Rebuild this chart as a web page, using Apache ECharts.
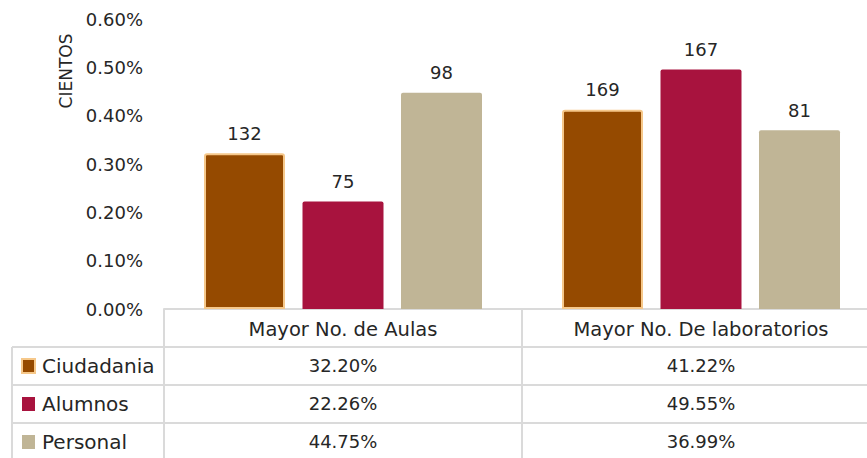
<!DOCTYPE html>
<html>
<head>
<meta charset="utf-8">
<script src="https://cdn.jsdelivr.net/npm/echarts@6/dist/echarts.min.js"></script>
<style>html,body{margin:0;padding:0;background:#fff}#c{width:867px;height:458px}</style>
</head>
<body>
<div id="c"></div>
<script>
const categories = ['Mayor No. de Aulas', 'Mayor No. De laboratorios'];
const seriesNames = ['Ciudadania', 'Alumnos', 'Personal'];
const ciudadaniaPct = [32.20, 41.22];
const alumnosPct = [22.26, 49.55];
const personalPct = [44.75, 36.99];
const ciudadaniaCount = [132, 169];
const alumnosCount = [75, 167];
const personalCount = [98, 81];
const yTicks = [0, 0.1, 0.2, 0.3, 0.4, 0.5, 0.6];

const pcts = [ciudadaniaPct, alumnosPct, personalPct];
const counts = [ciudadaniaCount, alumnosCount, personalCount];
const colors = ['#954a00', '#a8133e', '#c0b596'];
const borders = ['#f6c88a', '#a8133e', '#c0b596'];

const FONT = 'DejaVu Sans';
const FS = 18;
const TXT = '#262626';
const GL = 164, GW = 716, GT = 19, GB = 149, ROW = 38;
const W = 867, H = 458;
const axisY = H - GB;
const lineCol = '#dadada';

const chart = echarts.init(document.getElementById('c'), null, {renderer: 'svg'});

const xAxes = [{
  type: 'category', data: categories, position: 'bottom',
  axisLine: {show: true, lineStyle: {color: lineCol, width: 2}},
  axisTick: {show: false},
  axisLabel: {color: TXT, fontSize: 19.5, fontFamily: FONT, margin: 10}
}];
pcts.forEach((arr, r) => {
  xAxes.push({
    type: 'category', data: categories, position: 'bottom', offset: ROW * (r + 1),
    axisLine: {show: false}, axisTick: {show: false},
    axisLabel: {color: TXT, fontSize: FS, fontFamily: FONT, margin: 9,
      formatter: (v, i) => arr[i].toFixed(2) + '%'}
  });
});

const series = seriesNames.map((n, s) => ({
  name: n, type: 'bar', xAxisIndex: 0,
  data: pcts[s].map(v => v / 100),
  barWidth: 81, barGap: '21.6%',
  itemStyle: {color: colors[s], borderColor: borders[s], borderWidth: s === 0 ? 2 : 0, borderRadius: [2,2,0,0]},
  label: {show: true, position: 'top', distance: 11, color: TXT, fontSize: FS, fontFamily: FONT,
    formatter: p => counts[s][p.dataIndex]}
}));

const graphics = [];
const colMid = GL + GW / 2;
[axisY + ROW, axisY + 2*ROW, axisY + 3*ROW].forEach(y => graphics.push({type: 'line', shape: {x1: 12, y1: y, x2: W, y2: y}, style: {stroke: lineCol, lineWidth: 2}, silent: true}));
graphics.push({type: 'line', shape: {x1: 12, y1: axisY + ROW, x2: 12, y2: H}, style: {stroke: lineCol, lineWidth: 2}});
graphics.push({type: 'line', shape: {x1: GL, y1: axisY, x2: GL, y2: H}, style: {stroke: lineCol, lineWidth: 2}});
graphics.push({type: 'line', shape: {x1: colMid, y1: axisY, x2: colMid, y2: H}, style: {stroke: lineCol, lineWidth: 2}});
seriesNames.forEach((n, s) => {
  const cy = axisY + ROW * (s + 1) + ROW / 2;
  graphics.push({type: 'rect', shape: {x: 22, y: cy - 7, width: 13, height: 14},
    style: {fill: colors[s], stroke: borders[s], lineWidth: s === 0 ? 2 : 0}});
  graphics.push({type: 'text', x: 42, y: cy, style: {text: n, fill: TXT, fontSize: 20, fontFamily: FONT, verticalAlign: 'middle', align: 'left'}});
});
graphics.push({type: 'text', x: 66, y: 71, rotation: Math.PI / 2,
  style: {text: 'CIENTOS', fill: TXT, fontSize: 17, fontFamily: FONT, align: 'center', verticalAlign: 'middle'}});

chart.setOption({
  backgroundColor: '#fff',
  animation: false,
  grid: {left: GL, width: GW, top: GT, bottom: GB, containLabel: false, outerBoundsMode: 'none'},
  xAxis: xAxes,
  yAxis: {
    type: 'value', min: yTicks[0], max: yTicks[yTicks.length - 1], interval: 0.1,
    axisLine: {show: false}, axisTick: {show: false}, splitLine: {show: false},
    axisLabel: {color: TXT, fontSize: FS, fontFamily: FONT, margin: 21,
      formatter: v => v.toFixed(2) + '%'}
  },
  series: series,
  graphic: graphics
});
</script>
</body>
</html>
